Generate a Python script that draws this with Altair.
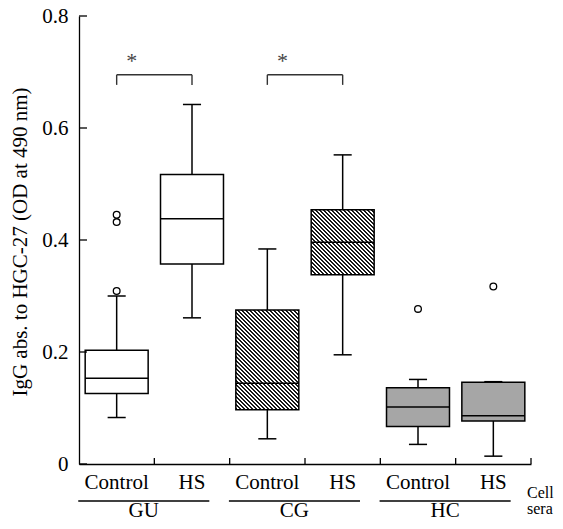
import altair as alt
import pandas as pd

# ---- data ----
groups = ["GU", "GU", "CG", "CG", "HC", "HC"]
subs = ["Control", "HS", "Control", "HS", "Control", "HS"]
fill_kind = ["white", "white", "hatch", "hatch", "gray", "gray"]
lower_whisker = [0.083, 0.261, 0.045, 0.195, 0.035, 0.014]
q1 = [0.126, 0.357, 0.097, 0.338, 0.067, 0.077]
median = [0.153, 0.438, 0.144, 0.396, 0.102, 0.086]
q3 = [0.203, 0.517, 0.275, 0.454, 0.136, 0.146]
upper_whisker = [0.300, 0.642, 0.384, 0.552, 0.151, 0.147]

outlier_box = [0, 0, 0, 4, 5]
outlier_val = [0.309, 0.432, 0.445, 0.277, 0.317]

group_names = ["GU", "CG", "HC"]
y_ticks = [0, 0.2, 0.4, 0.6, 0.8]
x_ticks = [1, 2, 3, 4, 5, 6]

sig_left = [0, 2]
sig_right = [1, 3]
sig_top = [0.695, 0.695]
sig_leg = [0.677, 0.677]
sig_label = ["*", "*"]

y_title = "IgG abs. to HGC-27 (OD at 490 nm)"
corner_lines = ["Cell", "sera"]

# ---- layout ----
W, H = 452, 448
PX_X = W / 6.0
PX_Y = H / 0.8
HALF = 0.418
CAP = 0.12
FONT = "Liberation Serif"

df = pd.DataFrame({
    "i": list(range(6)), "group": groups, "sub": subs, "kind": fill_kind,
    "lo": lower_whisker, "q1": q1, "med": median, "q3": q3, "hi": upper_whisker,
})
out_df = pd.DataFrame({"i": outlier_box, "v": outlier_val})
sig_df = pd.DataFrame({"l": sig_left, "r": sig_right, "top": sig_top,
                       "leg": sig_leg, "label": sig_label})
grp_df = pd.DataFrame({"g": list(range(3)), "name": group_names})

xs = alt.Scale(domain=[0, 6], nice=False, zero=False)
ys = alt.Scale(domain=[0, 0.8], nice=False, zero=False)
xaxis = alt.Axis(labels=False, ticks=False, grid=False, title=None,
                 domainColor="black", domainWidth=1.3)
yaxis = alt.Axis(values=y_ticks, format=".1~f", ticks=False, grid=False,
                 title=None, labelPadding=11, labelFont=FONT,
                 labelFontSize=21, labelColor="black",
                 domainColor="black", domainWidth=1.3)


def X(f):
    return alt.X(f"{f}:Q", scale=xs, axis=xaxis)


def Y(f):
    return alt.Y(f"{f}:Q", scale=ys, axis=yaxis)


base = alt.Chart(df).transform_calculate(
    c="datum.i + 0.5",
    xl=f"datum.i + 0.5 - {HALF}",
    xr=f"datum.i + 0.5 + {HALF}",
    cl=f"datum.i + 0.5 - {CAP}",
    cr=f"datum.i + 0.5 + {CAP}",
)

LW = 1.5
whisk_up = base.mark_rule(color="black", strokeWidth=LW).encode(
    x=X("c"), y=Y("q3"), y2="hi:Q")
whisk_lo = base.mark_rule(color="black", strokeWidth=LW).encode(
    x=X("c"), y=Y("lo"), y2="q1:Q")
cap_up = base.mark_rule(color="black", strokeWidth=LW).encode(
    x=X("cl"), x2="cr:Q", y=Y("hi"))
cap_lo = base.mark_rule(color="black", strokeWidth=LW).encode(
    x=X("cl"), x2="cr:Q", y=Y("lo"))

plain_boxes = base.transform_filter("datum.kind != 'hatch'").mark_rect(
    stroke="black", strokeWidth=LW).encode(
    x=X("xl"), x2="xr:Q", y=Y("q1"), y2="q3:Q",
    fill=alt.Fill("kind:N", scale=alt.Scale(domain=["white", "gray"],
                                            range=["#ffffff", "#a6a6a6"]),
                  legend=None))

PERIOD = 4.0  # hatch period along (x - y) in pixels
DARK = 0.5    # 2 px dark, 2 px light -> phase independent


def hatch_fill(i):
    w = 2 * HALF * PX_X
    h = (q3[i] - q1[i]) * PX_Y
    n = int((w + h) // PERIOD) + 1
    L = n * PERIOD
    k = L / (w * w + h * h)
    stops = []
    for j in range(n):
        a = j / n
        b = (j + DARK) / n
        c = (j + 1) / n
        stops += [
            {"offset": a, "color": "#1a1a1a"},
            {"offset": b, "color": "#1a1a1a"},
            {"offset": b, "color": "#ffffff"},
            {"offset": c, "color": "#ffffff"},
        ]
    return {"gradient": "linear", "x1": 0, "y1": 1,
            "x2": k * w, "y2": 1 - k * h, "stops": stops}


hatch_layers = []
for i, kd in enumerate(fill_kind):
    if kd == "hatch":
        hatch_layers.append(
            base.transform_filter(f"datum.i == {i}").mark_rect(
                fill=hatch_fill(i), stroke="black", strokeWidth=LW).encode(
                x=X("xl"), x2="xr:Q", y=Y("q1"), y2="q3:Q"))

med = base.mark_rule(color="black", strokeWidth=LW).encode(
    x=X("xl"), x2="xr:Q", y=Y("med"))

outs = alt.Chart(out_df).transform_calculate(c="datum.i + 0.5").mark_point(
    shape="circle", filled=False, color="black", size=45, strokeWidth=1.3,
    opacity=1).encode(x=X("c"), y=Y("v"))

ytk = alt.Chart(pd.DataFrame({"v": y_ticks})).mark_rule(
    color="black", strokeWidth=1.3).encode(
    x=alt.value(0), x2=alt.value(8), y=Y("v"))
xtk = alt.Chart(pd.DataFrame({"v": x_ticks})).mark_rule(
    color="black", strokeWidth=1.3).encode(
    x=X("v"), y=alt.value(H), y2=alt.value(H - 6))

sig = alt.Chart(sig_df).transform_calculate(
    a="datum.l + 0.5", b="datum.r + 0.5", s="datum.l + 0.7",
    ty="datum.top + 0.012")
sig_h = sig.mark_rule(color="#333333", strokeWidth=1.4).encode(
    x=X("a"), x2="b:Q", y=Y("top"))
sig_la = sig.mark_rule(color="#333333", strokeWidth=1.4).encode(
    x=X("a"), y=Y("top"), y2="leg:Q")
sig_lb = sig.mark_rule(color="#333333", strokeWidth=1.4).encode(
    x=X("b"), y=Y("top"), y2="leg:Q")
sig_t = sig.mark_text(
    font=FONT, fontSize=22, color="#444444", align="center",
    baseline="alphabetic").encode(x=X("s"), y=Y("ty"), text="label:N")

sub_txt = base.mark_text(font=FONT, fontSize=21, color="black",
                         align="center", baseline="alphabetic").encode(
    x=X("c"), y=alt.value(H + 25), text="sub:N")

grp = alt.Chart(grp_df).transform_calculate(
    a="datum.g * 2 - 0.01", b="datum.g * 2 + 1.73", m="datum.g * 2 + 0.86")
grp_line = grp.mark_rule(color="black", strokeWidth=1.3).encode(
    x=X("a"), x2="b:Q", y=alt.value(H + 37))
grp_txt = grp.mark_text(font=FONT, fontSize=21, color="black",
                        align="center", baseline="alphabetic").encode(
    x=X("m"), y=alt.value(H + 53), text="name:N")

corner = alt.Chart(pd.DataFrame({"t": corner_lines, "k": [0, 1]})).transform_calculate(
    yy=f"{H + 34} + datum.k * 16").mark_text(
    font=FONT, fontSize=16, color="black", align="left",
    baseline="alphabetic").encode(
    x=alt.value(W - 4), y=alt.Y("yy:Q", scale=None), text="t:N")

ytitle = alt.Chart(pd.DataFrame({"t": [y_title]})).mark_text(
    font=FONT, fontSize=21, color="black", angle=270, align="center",
    baseline="alphabetic").encode(
    x=alt.value(-52), y=alt.value(226), text="t:N")

chart = alt.layer(
    whisk_up, whisk_lo, cap_up, cap_lo, plain_boxes, *hatch_layers, med,
    outs, ytk, xtk, sig_h, sig_la, sig_lb, sig_t, sub_txt, grp_line,
    grp_txt, corner, ytitle,
).properties(
    width=W, height=H,
    padding={"left": 71, "top": 8, "right": 24, "bottom": 57},
    autosize=alt.AutoSizeParams(type="none"),
    background="white",
).configure_view(strokeWidth=0)

chart.save("out.html", embed_options={"renderer": "svg", "actions": False})
